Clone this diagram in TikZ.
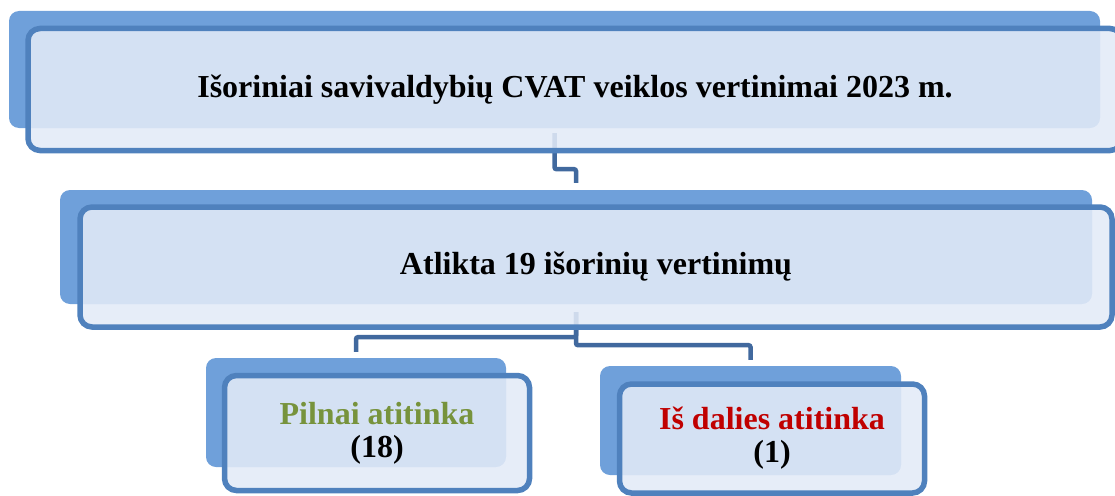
\documentclass[tikz,border=0pt]{standalone}
\usepackage{fontspec}
\setmainfont{Liberation Serif}
\definecolor{backblue}{HTML}{6FA0DA}
\definecolor{frontfill}{HTML}{E2EAF7}
\definecolor{edgeblue}{HTML}{4F81BD}
\definecolor{linkblue}{HTML}{41699E}
\definecolor{okgreen}{HTML}{77933C}
\definecolor{partred}{HTML}{C00000}
\tikzset{
  backbox/.style={rectangle, rounded corners=10pt, fill=backblue, inner sep=0pt},
  frontbox/.style={rectangle, rounded corners=12pt, draw=edgeblue, line width=5.5pt,
    fill=frontfill, fill opacity=0.88, text opacity=1, inner sep=0pt, align=center,
    font=\fontsize{32}{33}\selectfont\bfseries},
  link/.style={draw=linkblue, line width=4.5pt, rounded corners=2pt}
}
\begin{document}
\begin{tikzpicture}[x=1pt,y=-1pt]
\useasboundingbox (0,0) rectangle (1115,495);
\node[backbox, minimum width=1091pt, minimum height=117pt] (bTop) at (554.5,69.5) {};
\node[backbox, minimum width=1032pt, minimum height=114pt] (bMid) at (576,247) {};
\node[backbox, minimum width=300pt, minimum height=109pt] (bLeft) at (356,412.5) {};
\node[backbox, minimum width=301pt, minimum height=109pt] (bRight) at (750.5,420.5) {};
\draw[link] ([yshift=-5pt]bTop.south) -- ++(0,36) -| ([yshift=7pt]bMid.north);
\draw[link] ([yshift=-8pt]bMid.south) -- ++(0,25) -| ([yshift=6pt]bLeft.north);
\draw[link] ([yshift=-8pt]bMid.south) -- ++(0,33) -| ([yshift=6pt]bRight.north);
\node[frontbox, minimum width=1094pt, minimum height=122pt] (ttl) at (575,89.5)
  {Išoriniai savivaldybių CVAT veiklos vertinimai 2023 m.};
\node[frontbox, minimum width=1032pt, minimum height=120pt] (mid) at (596,267)
  {Atlikta 19 išorinių vertinimų};
\node[frontbox, minimum width=305pt, minimum height=115pt] (full) at (377,433)
  {{\color{okgreen}Pilnai atitinka}\\(18)};
\node[frontbox, minimum width=305pt, minimum height=109pt] (part) at (772,438.5)
  {{\color{partred}Iš dalies atitinka}\\(1)};
\end{tikzpicture}
\end{document}
